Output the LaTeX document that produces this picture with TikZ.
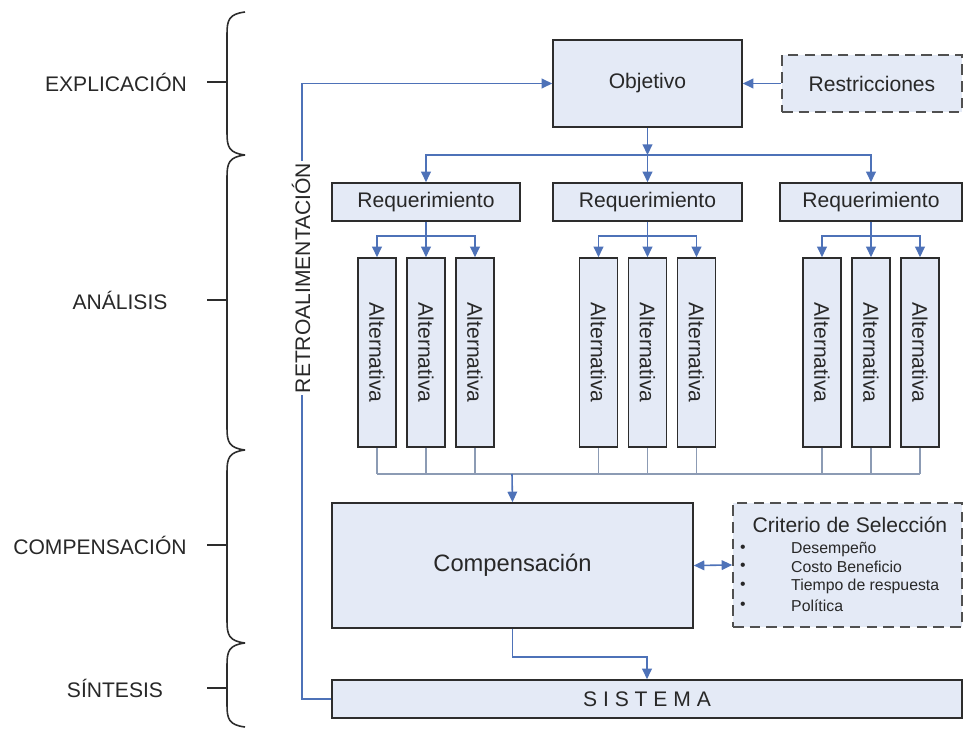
\documentclass[tikz,border=0pt]{standalone}
\usepackage{fontspec}
\setmainfont{Liberation Sans}
\usetikzlibrary{arrows.meta}
\definecolor{boxfill}{RGB}{228,234,246}
\definecolor{boxline}{RGB}{45,45,45}
\definecolor{dashline}{RGB}{80,80,80}
\definecolor{flowblue}{RGB}{78,114,184}
\definecolor{busgray}{RGB}{140,155,180}
\definecolor{textgray}{RGB}{40,40,40}

\begin{document}
\begin{tikzpicture}[x=0.02cm,y=-0.02cm,
    box/.style={draw=boxline,fill=boxfill,line width=0.9pt,inner sep=0pt,text=textgray,font=\fontsize{12}{14}\selectfont},
    dashbox/.style={box,draw=dashline,dash pattern=on 6pt off 3.5pt},
    flow/.style={draw=flowblue,line width=0.9pt,-{Triangle[length=6pt,width=5.5pt]}},
    bus/.style={draw=busgray,line width=0.9pt},
    lbl/.style={text=textgray,font=\fontsize{12}{14}\selectfont}]
    \useasboundingbox (0,0) rectangle (965,730);

    % braces on the left
    \foreach \t/\b in {12/155,155/450,450/643,643/727}
        \draw[boxline,line width=0.9pt] (245,\t) .. controls (229,{\t+2}) and (227,{\t+8}) .. (227,{\t+22})
            -- (227,{\b-22}) .. controls (227,{\b-8}) and (229,{\b-2}) .. (245,\b);
    \foreach \m in {82,300,545,688}
        \draw[boxline,line width=0.9pt] (207,\m) -- (227,\m);
    \node[lbl] (lexp) at (116,82) {EXPLICACIÓN};
    \node[lbl] (lana) at (120,300) {ANÁLISIS};
    \node[lbl] (lcomp) at (100,545) {COMPENSACIÓN};
    \node[lbl] (lsin) at (115,688) {SÍNTESIS};

    % main boxes
    \node[box,minimum width=3.78cm,minimum height=1.74cm] (obj) at (647.5,83.5) {Objetivo};
    \node[dashbox,minimum width=3.6cm,minimum height=1.14cm] (res) at (872,83.5) {Restricciones};
    \node[box,minimum width=7.22cm,minimum height=2.5cm,font=\fontsize{13.5}{16}\selectfont] (comp) at (512.5,565.5) {Compensación};
    \node[dashbox,minimum width=4.58cm,minimum height=2.48cm] (crit) at (847.5,565) {};
    \node[box,minimum width=12.6cm,minimum height=0.76cm] (sis) at (647,699) {S I S T E M A};

    % criterio de seleccion
    \node[lbl] (crittit) at (850,525) {Criterio de Selección};
    \foreach \k/\txt/\yy in {1/Desempeño/549,2/Costo Beneficio/567,3/Tiempo de respuesta/586,4/Política/606} {
        \node[text=textgray,font=\fontsize{9}{10}\selectfont] (bul\k) at (743,\yy) {\textbullet};
        \node[anchor=west,text=textgray,font=\fontsize{9}{10}\selectfont] (item\k) at (785,\yy) {\txt};
    }

    \draw[flow] (res.west) -- (obj.east);
    \coordinate (busr) at (647.5,155);
    \coordinate (busc) at (512,474);

    % requerimientos y alternativas
    \foreach \i/\cx/\w in {1/426/3.76,2/647.5/3.78,3/871/3.64} {
        \node[box,minimum width=\w cm,minimum height=0.76cm] (req\i) at (\cx,202) {Requerimiento};
        \draw[flow] (busr) -| (req\i.north);
        \foreach \j/\dx in {1/-49,2/0,3/49} {
            \node[box,minimum width=0.76cm,minimum height=3.78cm] (alt\i\j) at ({\cx+\dx},352.5) {};
            \node[rotate=-90,text=textgray,font=\fontsize{12}{14}\selectfont] at (alt\i\j) {Alternativa};
            \draw[flow] (req\i.south) -- ++(0,14) -| (alt\i\j.north);
            \draw[bus] (alt\i\j.south) -- (alt\i\j.south |- busc);
        }
    }
    \draw[flow] (obj.south) -- (busr);
    \draw[bus] (alt11.south |- busc) -- (alt33.south |- busc);
    \draw[flow] (busc) -- (comp.north);
    \draw[flow,{Triangle[length=6pt,width=5.5pt]}-{Triangle[length=6pt,width=5.5pt]}] (comp.east) -- (crit.west);
    \draw[flow] (comp.south) -- ++(0,28) -| (sis.north);

    % retroalimentacion
    \draw[flow] (sis.west) -- ++(-29,0) |- (obj.west);
    \node[lbl,rotate=90,fill=white,inner sep=1pt] (retro) at (301,278) {RETROALIMENTACIÓN};
\end{tikzpicture}
\end{document}
